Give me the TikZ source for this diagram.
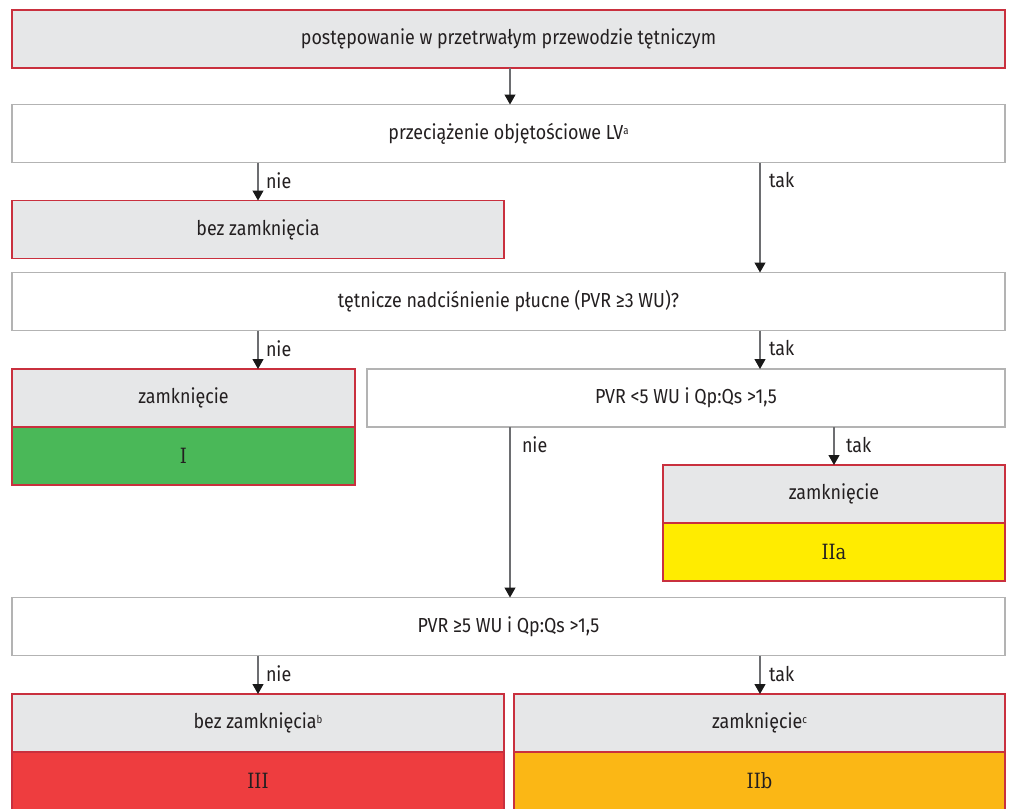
\documentclass[tikz,border=0pt]{standalone}
\usepackage{fontspec}
\setmainfont{Fira Sans}[FakeStretch=0.88]
\newfontfamily\classfont{DejaVu Serif}[FakeStretch=0.85]
\usetikzlibrary{arrows.meta}
\definecolor{boxgray}{HTML}{E6E7E8}
\definecolor{boxred}{HTML}{C9303E}
\definecolor{askgray}{HTML}{B3B3B3}
\definecolor{txt}{HTML}{231F20}
\definecolor{linegray}{HTML}{6D6E71}
\definecolor{clgreen}{HTML}{4AB858}
\definecolor{clyellow}{HTML}{FFEC00}
\definecolor{clred}{HTML}{EE3D3F}
\definecolor{clorange}{HTML}{FBB715}
\newcommand{\boxfont}{\fontsize{20.3}{24}\selectfont}
\newcommand{\romfont}{\classfont\fontsize{21}{25}\selectfont}
\newcommand{\supmark}[1]{\raisebox{0.45ex}{\fontsize{11}{12}\selectfont #1}}
\begin{document}
\begin{tikzpicture}[x=1pt,y=-1pt,
  every node/.style={inner sep=0pt,outer sep=0pt,text=txt},
  headbox/.style={draw=boxred,fill=boxgray,line width=1.2pt,minimum height=58pt,font=\boxfont},
  askbox/.style={draw=askgray,fill=white,line width=1.2pt,minimum height=58pt,font=\boxfont},
  classbox/.style={draw=boxred,line width=1.2pt,minimum height=58pt,font=\romfont},
  flow/.style={draw=linegray,line width=1.2pt,-{Triangle[width=11pt,length=10pt,color=black!90]}},
  lbl/.style={font=\boxfont,anchor=west,yshift=-18pt}
]
\useasboundingbox (0,0) rectangle (1011,808);
\fill[white] (0,0) rectangle (1011,808);

% column guides for the connectors
\coordinate (colL) at (258,0);
\coordinate (colM) at (510,0);
\coordinate (colR) at (760,0);

% decision chain
\node[headbox,minimum width=993pt] (start) at (508.5,39) {postępowanie w przetrwałym przewodzie tętniczym};
\node[askbox,minimum width=993pt] (lv) at (508.5,133.5) {przeciążenie objętościowe LV\supmark{a}};
\node[headbox,minimum width=492pt] (noclose1) at (258,229.5) {bez zamknięcia};
\node[askbox,minimum width=993pt] (pah) at (508.5,301.5) {tętnicze nadciśnienie płucne (PVR ≥3 WU)?};

\node[headbox,minimum width=343pt] (close1) at (183.5,398) {zamknięcie};
\node[classbox,fill=clgreen,minimum width=343pt,anchor=north] (classI) at (close1.south) {I};
\node[askbox,minimum width=638pt] (pvrlow) at (686,398) {PVR <5 WU i Qp:Qs >1,5};

\node[headbox,minimum width=342pt] (close2) at (834,494) {zamknięcie};
\node[classbox,fill=clyellow,minimum width=342pt,anchor=north] (classIIa) at (close2.south) {IIa};

\node[askbox,minimum width=993pt] (pvrhigh) at (508.5,626.5) {PVR ≥5 WU i Qp:Qs >1,5};

\node[headbox,minimum width=492pt] (noclose2) at (258,723) {bez zamknięcia\supmark{b}};
\node[classbox,fill=clred,minimum width=492pt,anchor=north] (classIII) at (noclose2.south) {III};
\node[headbox,minimum width=491pt] (close3) at (759.5,723) {zamknięcie\supmark{c}};
\node[classbox,fill=clorange,minimum width=491pt,anchor=north] (classIIb) at (close3.south) {IIb};

% connectors
\draw[flow] (start.south -| colM) -- (lv.north -| colM);
\draw[flow] (lv.south -| colL) -- (noclose1.north -| colL)
  node[lbl,at start,xshift=8pt] {nie};
\draw[flow] (lv.south -| colR) -- (pah.north -| colR)
  node[lbl,at start,xshift=9pt] {tak};
\draw[flow] (pah.south -| colL) -- (close1.north -| colL)
  node[lbl,at start,xshift=8pt] {nie};
\draw[flow] (pah.south -| colR) -- (pvrlow.north -| colR)
  node[lbl,at start,xshift=9pt] {tak};
\draw[flow] (pvrlow.south -| colM) -- (pvrhigh.north -| colM)
  node[lbl,at start,xshift=12pt] {nie};
\draw[flow] (pvrlow.south -| close2.north) -- (close2.north)
  node[lbl,at start,xshift=12pt] {tak};
\draw[flow] (pvrhigh.south -| colL) -- (noclose2.north -| colL)
  node[lbl,at start,xshift=8pt] {nie};
\draw[flow] (pvrhigh.south -| colR) -- (close3.north -| colR)
  node[lbl,at start,xshift=9pt] {tak};
\end{tikzpicture}
\end{document}
